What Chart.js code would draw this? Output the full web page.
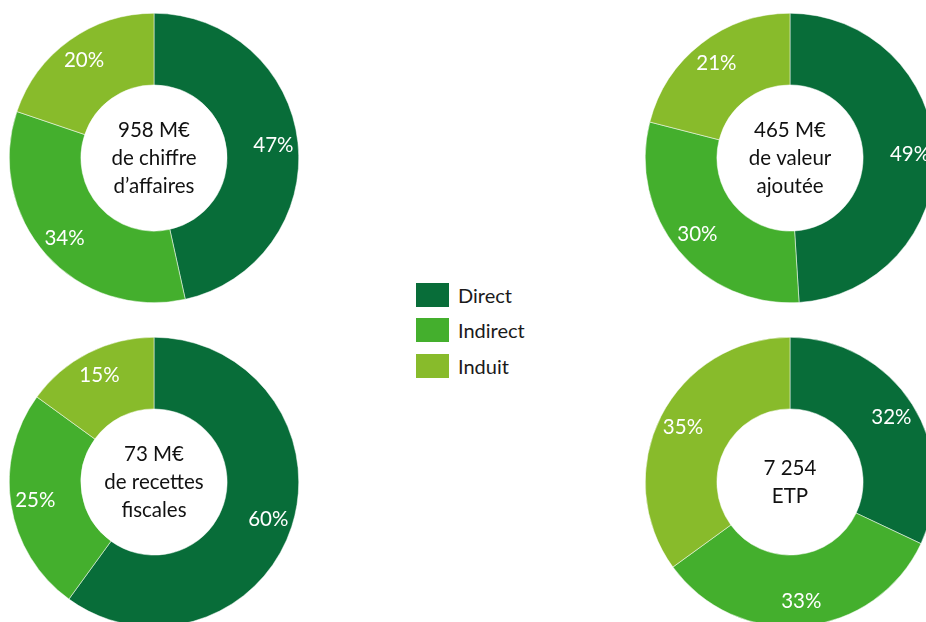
<!DOCTYPE html>
<html>
<head>
<meta charset="utf-8">
<script src="https://cdn.jsdelivr.net/npm/chart.js@4/dist/chart.umd.min.js"></script>
<style>
  html, body { margin: 0; padding: 0; background: #fff; width: 926px; height: 622px; overflow: hidden; }
  .donut { position: absolute; width: 290px; height: 290px; }
  #legend { position: absolute; left: 416px; top: 277px; font-family: Lato, "Open Sans", sans-serif; font-size: 20px; color: #1a1a1a; }
  .item { display: flex; align-items: center; height: 35.5px; }
  .box { width: 33px; height: 24px; margin-right: 9px; }
</style>
</head>
<body>
<canvas id="c1" class="donut" width="290" height="290" style="left:9px;top:13px"></canvas>
<canvas id="c2" class="donut" width="290" height="290" style="left:645px;top:13px"></canvas>
<canvas id="c3" class="donut" width="290" height="290" style="left:9px;top:337px"></canvas>
<canvas id="c4" class="donut" width="290" height="290" style="left:645px;top:337px"></canvas>
<div id="legend"></div>
<script>
// Categories and colours
const categories = ["Direct", "Indirect", "Induit"];
const colors = ["#086d39", "#44af2d", "#88bb2b"];

// Share of each category (%), per donut
const chiffreAffaires = [47, 34, 20];
const valeurAjoutee = [49, 30, 21];
const recettesFiscales = [60, 25, 15];
const emplois = [32, 33, 35];

// Centre texts
const centerCA = ["958 M€", "de chiffre", "d\u2019affaires"];
const centerVA = ["465 M€", "de valeur", "ajoutée"];
const centerRF = ["73 M€", "de recettes", "fiscales"];
const centerETP = ["7 254", "ETP"];

const FONT = "Lato, 'Open Sans', sans-serif";

// Draws % labels in the ring and the text in the hole
const donutText = {
  id: "donutText",
  afterDatasetsDraw(chart, args, opts) {
    const c = chart.ctx;
    const meta = chart.getDatasetMeta(0);
    const values = chart.data.datasets[0].data;
    c.save();
    c.textAlign = "center";
    c.textBaseline = "middle";
    c.font = "20.5px " + FONT;
    c.fillStyle = "#ffffff";
    meta.data.forEach((arc, i) => {
      const p = arc.getProps(["x", "y", "startAngle", "endAngle", "outerRadius"], true);
      const mid = (p.startAngle + p.endAngle) / 2;
      const r = p.outerRadius * 0.83;
      c.fillText(values[i] + "%", p.x + Math.cos(mid) * r, p.y + Math.sin(mid) * r);
    });
    const first = meta.data[0];
    const lines = opts.lines || [];
    const lh = 28;
    const y0 = first.y - (lines.length - 1) * lh / 2;
    c.font = "20.5px " + FONT;
    c.fillStyle = "#111111";
    lines.forEach((t, i) => c.fillText(t, first.x, y0 + i * lh));
    c.restore();
  }
};

function makeDonut(id, values, lines) {
  return new Chart(document.getElementById(id), {
    type: "doughnut",
    data: {
      labels: categories,
      datasets: [{
        data: values,
        backgroundColor: colors,
        borderColor: "#ffffff",
        borderWidth: 0.5,
        hoverOffset: 0
      }]
    },
    options: {
      responsive: false,
      animation: false,
      events: [],
      cutout: "50.5%",
      layout: { padding: 0 },
      plugins: {
        legend: { display: false },
        tooltip: { enabled: false },
        donutText: { lines: lines }
      }
    },
    plugins: [donutText]
  });
}

makeDonut("c1", chiffreAffaires, centerCA);
makeDonut("c2", valeurAjoutee, centerVA);
makeDonut("c3", recettesFiscales, centerRF);
makeDonut("c4", emplois, centerETP);

// Shared legend
const legend = document.getElementById("legend");
categories.forEach((name, i) => {
  const row = document.createElement("div");
  row.className = "item";
  const box = document.createElement("span");
  box.className = "box";
  box.style.background = colors[i];
  const label = document.createElement("span");
  label.textContent = name;
  row.appendChild(box);
  row.appendChild(label);
  legend.appendChild(row);
});
</script>
</body>
</html>
